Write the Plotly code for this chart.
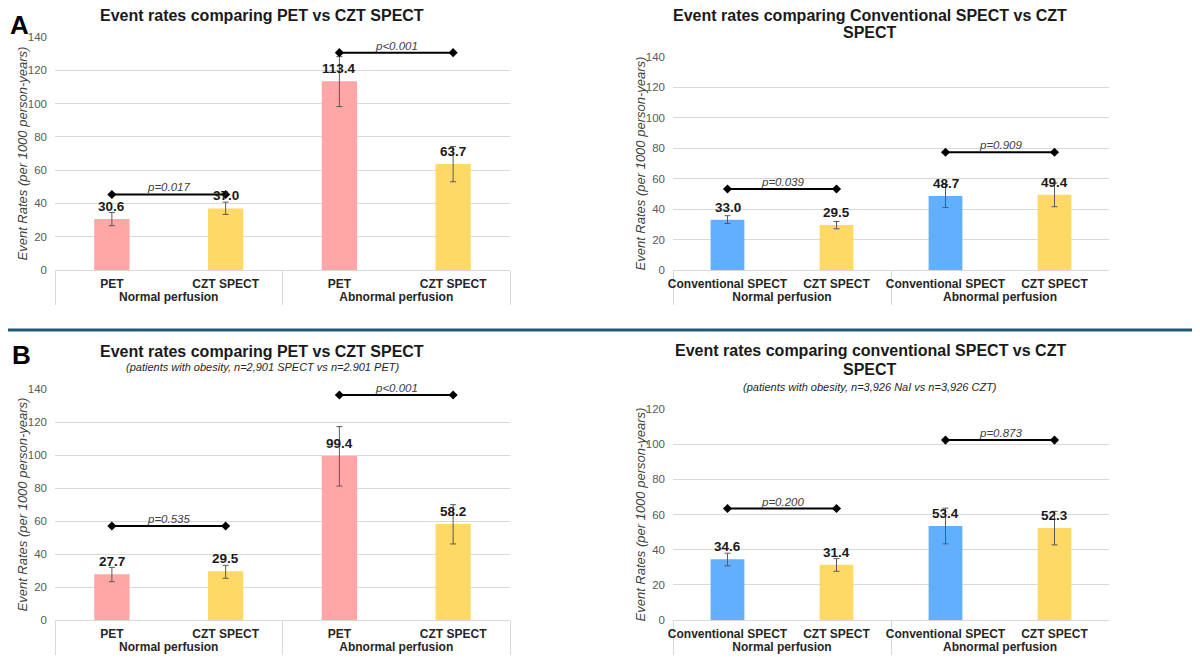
import plotly.graph_objects as go

# categories
groups = ["Normal perfusion", "Normal perfusion", "Abnormal perfusion", "Abnormal perfusion"]
pet_labels = ["PET", "CZT SPECT", "PET", "CZT SPECT"]
spect_labels = ["Conventional SPECT", "CZT SPECT", "Conventional SPECT", "CZT SPECT"]

# A left: PET vs CZT SPECT
a_pet_rates = [30.6, 37.0, 113.4, 63.7]
a_pet_err_up = [4.0, 3.8, 14.8, 10.5]
a_pet_err_down = [4.0, 3.6, 15.2, 10.7]
a_pet_bracket = [45.4, 130.6]
a_pet_p = ["p=0.017", "p<0.001"]

# A right: Conventional SPECT vs CZT SPECT
a_spect_rates = [33.0, 29.5, 48.7, 49.4]
a_spect_err_up = [2.7, 2.4, 7.6, 7.8]
a_spect_err_down = [2.4, 2.4, 7.6, 7.8]
a_spect_bracket = [53.2, 77.4]
a_spect_p = ["p=0.039", "p=0.909"]

# B left: PET vs CZT SPECT, obesity
b_pet_rates = [27.7, 29.5, 99.4, 58.2]
b_pet_err_up = [4.2, 3.6, 17.8, 11.7]
b_pet_err_down = [4.5, 4.2, 18.2, 12.1]
b_pet_bracket = [57.0, 136.4]
b_pet_p = ["p=0.535", "p<0.001"]

# B right: conventional SPECT vs CZT SPECT, obesity
b_spect_rates = [34.6, 31.4, 53.4, 52.3]
b_spect_err_up = [3.4, 3.5, 10.2, 9.5]
b_spect_err_down = [3.8, 3.7, 10.1, 9.6]
b_spect_bracket = [63.4, 102.3]
b_spect_p = ["p=0.200", "p=0.873"]

PINK = "#FFA6A6"
YELLOW = "#FFD966"
BLUE = "#63AFFF"
FONT = "Liberation Sans, Arial, sans-serif"

pet_colors = [PINK, YELLOW, PINK, YELLOW]
spect_colors = [BLUE, YELLOW, BLUE, YELLOW]

# page body has an 8px margin, so the figure is a bit smaller than the window
OFF = 8
W, H = 1200 - OFF, 663 - OFF


def px_x(v):
    return (v - OFF) / W


def px_y(v):
    return 1 - (v - OFF) / H


panels = [
    dict(ax="", labels=pet_labels, rates=a_pet_rates, up=a_pet_err_up, down=a_pet_err_down,
         bracket=a_pet_bracket, p=a_pet_p, colors=pet_colors, ymax=140,
         xdom=[px_x(55), px_x(510)], ydom=[px_y(270), px_y(37)]),
    dict(ax="2", labels=spect_labels, rates=a_spect_rates, up=a_spect_err_up, down=a_spect_err_down,
         bracket=a_spect_bracket, p=a_spect_p, colors=spect_colors, ymax=140,
         xdom=[px_x(673), px_x(1109)], ydom=[px_y(270), px_y(57)]),
    dict(ax="3", labels=pet_labels, rates=b_pet_rates, up=b_pet_err_up, down=b_pet_err_down,
         bracket=b_pet_bracket, p=b_pet_p, colors=pet_colors, ymax=140,
         xdom=[px_x(55), px_x(510)], ydom=[px_y(620), px_y(389)]),
    dict(ax="4", labels=spect_labels, rates=b_spect_rates, up=b_spect_err_up, down=b_spect_err_down,
         bracket=b_spect_bracket, p=b_spect_p, colors=spect_colors, ymax=120,
         xdom=[px_x(673), px_x(1109)], ydom=[px_y(620), px_y(409)]),
]

fig = go.Figure()
annotations = []

for pn in panels:
    xa = "x" + pn["ax"]
    ya = "y" + pn["ax"]
    fig.add_trace(go.Bar(
        x=[groups, pn["labels"]], y=pn["rates"],
        marker=dict(color=pn["colors"], line=dict(width=0)),
        width=0.31,
        error_y=dict(type="data", array=pn["up"], arrayminus=pn["down"],
                     color="#595959", thickness=1, width=3),
        xaxis=xa, yaxis=ya, showlegend=False,
    ))
    # value labels above bars
    for i, v in enumerate(pn["rates"]):
        annotations.append(dict(
            x=i, y=v, xref=xa, yref=ya, text="<b>%.1f</b>" % v,
            showarrow=False, yanchor="bottom", yshift=3,
            font=dict(family=FONT, size=13.5, color="#1a1a1a"),
        ))
    # significance brackets
    for i, gy in enumerate(pn["bracket"]):
        k = 2 * i
        fig.add_trace(go.Scatter(
            x=[groups[k:k + 2], pn["labels"][k:k + 2]], y=[gy, gy],
            mode="lines+markers",
            line=dict(color="black", width=2),
            marker=dict(symbol="diamond", size=7, color="black"),
            cliponaxis=False, xaxis=xa, yaxis=ya, showlegend=False,
        ))
        annotations.append(dict(
            x=k + 0.5, y=gy, xref=xa, yref=ya, text="<i>" + pn["p"][i] + "</i>",
            showarrow=False, yanchor="bottom", yshift=-1,
            font=dict(family=FONT, size=11.5, color="#404040"),
        ))
    sfx = pn["ax"]
    fig.update_layout({
        "xaxis" + sfx: dict(
            domain=pn["xdom"], anchor=ya, type="multicategory",
            showline=True, linecolor="#d9d9d9", linewidth=1,
            showdividers=True, dividercolor="#d9d9d9", dividerwidth=1,
            showgrid=False, ticks="", automargin=False, tickangle=0,
            ticklabelstandoff=3,
            tickfont=dict(family=FONT, size=12, color="#262626", weight="bold"),
        ),
        "yaxis" + sfx: dict(
            domain=pn["ydom"], anchor=xa, range=[0, pn["ymax"]], dtick=20,
            showgrid=True, gridcolor="#d9d9d9", gridwidth=1, zeroline=False,
            showline=False, ticks="", automargin=False, ticklabelstandoff=7,
            tickfont=dict(family=FONT, size=11.5, color="#595959"),
        ),
    })
    # y axis title
    ymid = (pn["ydom"][0] + pn["ydom"][1]) / 2
    annotations.append(dict(
        x=pn["xdom"][0] - 33 / W, y=ymid, xref="paper", yref="paper",
        text="<i>Event Rates (per 1000 person-years)</i>", textangle=-90,
        showarrow=False, xanchor="center", yanchor="middle",
        font=dict(family=FONT, size=13, color="#404040"),
    ))

# titles
title_font = dict(family=FONT, size=16, color="#1a1a1a")
sub_font = dict(family=FONT, size=11, color="#262626")
panel_font = dict(family=FONT, size=26, color="black")
titles = [
    ("<b>Event rates comparing PET vs CZT SPECT</b>", 262, 15, title_font),
    ("<b>Event rates comparing Conventional SPECT vs CZT</b>", 870, 15, title_font),
    ("<b>SPECT</b>", 870, 33, title_font),
    ("<b>Event rates comparing PET vs CZT SPECT</b>", 262, 351, title_font),
    ("<i>(patients with obesity, n=2,901 SPECT vs n=2.901 PET)</i>", 262, 367, sub_font),
    ("<b>Event rates comparing conventional SPECT vs CZT</b>", 870, 350, title_font),
    ("<b>SPECT</b>", 870, 369, title_font),
    ("<i>(patients with obesity, n=3,926 NaI vs n=3,926 CZT)</i>", 870, 387, sub_font),
    ("<b>A</b>", 19, 25, panel_font),
    ("<b>B</b>", 21, 355, panel_font),
]
for txt, tx, ty, fnt in titles:
    annotations.append(dict(
        x=px_x(tx), y=px_y(ty), xref="paper", yref="paper", text=txt,
        showarrow=False, xanchor="center", yanchor="middle", font=fnt,
        borderpad=0,
    ))

fig.update_layout(
    width=W, height=H,
    margin=dict(l=0, r=0, t=0, b=0),
    paper_bgcolor="white", plot_bgcolor="white",
    annotations=annotations,
    shapes=[dict(type="line", xref="paper", yref="paper", x0=0, x1=1,
                 y0=px_y(330), y1=px_y(330), line=dict(color="#1f5b78", width=3))],
    bargap=0.69,
)

fig.write_html("out.html")
